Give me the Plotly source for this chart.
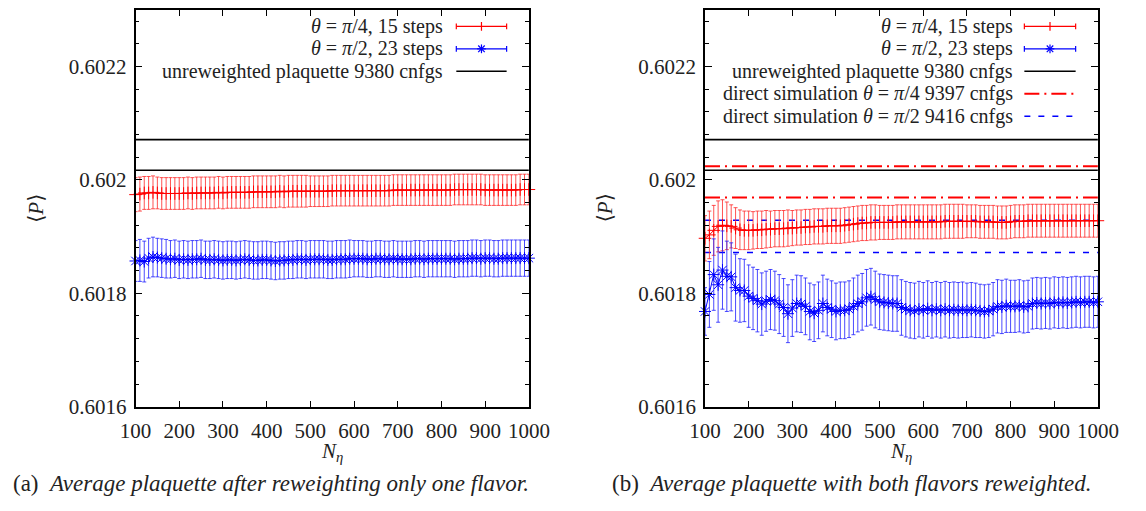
import plotly.graph_objects as go

# ---------------------------------------------------------------- data
N_eta = list(range(100, 1001, 10))

# (a) only one flavour reweighted
a_pi4 = [0.601974, 0.601975, 0.601977, 0.601977, 0.601978, 0.601977, 0.601976, 0.601976, 0.601976, 0.601976,
         0.601976, 0.601976, 0.601977, 0.601976, 0.601977, 0.601977, 0.601977, 0.601977, 0.601977, 0.601978,
         0.601977, 0.601978, 0.601978, 0.601978, 0.601978, 0.601978, 0.601978, 0.601979, 0.601979, 0.601979,
         0.601979, 0.601979, 0.601979, 0.601980, 0.601979, 0.601980, 0.601980, 0.601980, 0.601980, 0.601980,
         0.601980, 0.601980, 0.601980, 0.601980, 0.601980, 0.601981, 0.601981, 0.601981, 0.601981, 0.601981,
         0.601981, 0.601981, 0.601981, 0.601981, 0.601981, 0.601981, 0.601981, 0.601981, 0.601981, 0.601982,
         0.601982, 0.601982, 0.601982, 0.601982, 0.601982, 0.601982, 0.601982, 0.601982, 0.601982, 0.601982,
         0.601982, 0.601982, 0.601982, 0.601983, 0.601983, 0.601983, 0.601983, 0.601983, 0.601983, 0.601983,
         0.601982, 0.601982, 0.601982, 0.601982, 0.601982, 0.601982, 0.601982, 0.601982, 0.601983, 0.601983,
         0.601983]
a_pi4_err = [0.000030, 0.000030, 0.000029, 0.000029, 0.000029, 0.000028, 0.000028, 0.000028, 0.000028, 0.000028,
             0.000028, 0.000028, 0.000028, 0.000028, 0.000028, 0.000028, 0.000028, 0.000028, 0.000028, 0.000028,
             0.000028, 0.000028, 0.000028, 0.000028, 0.000028, 0.000028, 0.000028, 0.000028, 0.000028, 0.000028,
             0.000028, 0.000028, 0.000028, 0.000028, 0.000028, 0.000028, 0.000028, 0.000028, 0.000028, 0.000028,
             0.000027, 0.000027, 0.000027, 0.000027, 0.000027, 0.000027, 0.000027, 0.000027, 0.000027, 0.000027,
             0.000027, 0.000027, 0.000027, 0.000027, 0.000027, 0.000027, 0.000027, 0.000027, 0.000027, 0.000027,
             0.000027, 0.000027, 0.000027, 0.000027, 0.000027, 0.000027, 0.000027, 0.000027, 0.000027, 0.000027,
             0.000027, 0.000027, 0.000027, 0.000027, 0.000027, 0.000027, 0.000027, 0.000027, 0.000027, 0.000027,
             0.000027, 0.000027, 0.000027, 0.000027, 0.000027, 0.000027, 0.000027, 0.000027, 0.000027, 0.000027,
             0.000027]
a_pi2 = [0.601857, 0.601858, 0.601856, 0.601862, 0.601864, 0.601863, 0.601862, 0.601861, 0.601860, 0.601861,
         0.601859, 0.601860, 0.601859, 0.601860, 0.601860, 0.601861, 0.601859, 0.601859, 0.601860, 0.601859,
         0.601858, 0.601859, 0.601859, 0.601858, 0.601859, 0.601860, 0.601859, 0.601858, 0.601858, 0.601859,
         0.601859, 0.601858, 0.601857, 0.601858, 0.601858, 0.601859, 0.601859, 0.601860, 0.601860, 0.601859,
         0.601860, 0.601860, 0.601860, 0.601860, 0.601859, 0.601859, 0.601860, 0.601860, 0.601860, 0.601861,
         0.601861, 0.601861, 0.601861, 0.601860, 0.601860, 0.601861, 0.601861, 0.601860, 0.601860, 0.601861,
         0.601860, 0.601860, 0.601860, 0.601860, 0.601861, 0.601861, 0.601860, 0.601861, 0.601861, 0.601861,
         0.601861, 0.601861, 0.601861, 0.601860, 0.601861, 0.601861, 0.601861, 0.601862, 0.601862, 0.601861,
         0.601862, 0.601862, 0.601861, 0.601861, 0.601862, 0.601862, 0.601862, 0.601862, 0.601862, 0.601862,
         0.601862]
a_pi2_err = [0.000036, 0.000037, 0.000036, 0.000035, 0.000035, 0.000034, 0.000034, 0.000034, 0.000033, 0.000033,
             0.000033, 0.000033, 0.000033, 0.000033, 0.000033, 0.000033, 0.000033, 0.000033, 0.000033, 0.000033,
             0.000033, 0.000033, 0.000033, 0.000033, 0.000033, 0.000033, 0.000033, 0.000033, 0.000033, 0.000033,
             0.000033, 0.000033, 0.000033, 0.000033, 0.000033, 0.000033, 0.000033, 0.000033, 0.000033, 0.000033,
             0.000033, 0.000033, 0.000033, 0.000033, 0.000033, 0.000033, 0.000033, 0.000033, 0.000033, 0.000033,
             0.000032, 0.000032, 0.000032, 0.000032, 0.000032, 0.000032, 0.000032, 0.000032, 0.000032, 0.000032,
             0.000032, 0.000032, 0.000032, 0.000032, 0.000032, 0.000032, 0.000032, 0.000032, 0.000032, 0.000032,
             0.000032, 0.000032, 0.000032, 0.000032, 0.000032, 0.000032, 0.000032, 0.000032, 0.000032, 0.000032,
             0.000032, 0.000032, 0.000032, 0.000032, 0.000032, 0.000032, 0.000032, 0.000032, 0.000032, 0.000032,
             0.000032]

# (b) both flavours reweighted
b_pi4 = [0.601897, 0.601903, 0.601911, 0.601918, 0.601920, 0.601919, 0.601918, 0.601915, 0.601912, 0.601911,
         0.601911, 0.601911, 0.601912, 0.601912, 0.601913, 0.601913, 0.601914, 0.601914, 0.601914, 0.601915,
         0.601915, 0.601916, 0.601916, 0.601917, 0.601917, 0.601918, 0.601918, 0.601918, 0.601919, 0.601919,
         0.601919, 0.601919, 0.601920, 0.601921, 0.601922, 0.601923, 0.601924, 0.601924, 0.601925, 0.601925,
         0.601925, 0.601925, 0.601925, 0.601925, 0.601926, 0.601926, 0.601926, 0.601926, 0.601926, 0.601926,
         0.601926, 0.601926, 0.601926, 0.601926, 0.601926, 0.601927, 0.601927, 0.601927, 0.601927, 0.601927,
         0.601927, 0.601927, 0.601927, 0.601926, 0.601926, 0.601926, 0.601926, 0.601925, 0.601925, 0.601925,
         0.601926, 0.601927, 0.601927, 0.601927, 0.601928, 0.601928, 0.601928, 0.601928, 0.601928, 0.601928,
         0.601928, 0.601928, 0.601928, 0.601928, 0.601928, 0.601928, 0.601928, 0.601928, 0.601928, 0.601928,
         0.601928]
b_pi4_err = [0.000040, 0.000042, 0.000044, 0.000045, 0.000045, 0.000042, 0.000038, 0.000036, 0.000035, 0.000034,
             0.000034, 0.000033, 0.000033, 0.000033, 0.000033, 0.000032, 0.000032, 0.000032, 0.000032, 0.000032,
             0.000031, 0.000031, 0.000031, 0.000031, 0.000031, 0.000031, 0.000031, 0.000031, 0.000031, 0.000031,
             0.000031, 0.000031, 0.000031, 0.000031, 0.000031, 0.000031, 0.000031, 0.000031, 0.000031, 0.000031,
             0.000030, 0.000030, 0.000030, 0.000030, 0.000030, 0.000030, 0.000030, 0.000030, 0.000030, 0.000030,
             0.000030, 0.000030, 0.000030, 0.000030, 0.000030, 0.000030, 0.000030, 0.000030, 0.000030, 0.000030,
             0.000029, 0.000029, 0.000029, 0.000029, 0.000029, 0.000029, 0.000029, 0.000029, 0.000029, 0.000029,
             0.000029, 0.000029, 0.000029, 0.000029, 0.000029, 0.000029, 0.000029, 0.000029, 0.000029, 0.000029,
             0.000029, 0.000029, 0.000029, 0.000029, 0.000029, 0.000029, 0.000029, 0.000029, 0.000029, 0.000029,
             0.000029]
b_pi2 = [0.601768, 0.601798, 0.601833, 0.601815, 0.601841, 0.601830, 0.601829, 0.601810, 0.601805, 0.601805,
         0.601795, 0.601791, 0.601787, 0.601781, 0.601786, 0.601789, 0.601787, 0.601781, 0.601775, 0.601764,
         0.601774, 0.601782, 0.601781, 0.601777, 0.601768, 0.601765, 0.601770, 0.601782, 0.601775, 0.601772,
         0.601768, 0.601770, 0.601770, 0.601772, 0.601777, 0.601782, 0.601785, 0.601792, 0.601794, 0.601789,
         0.601785, 0.601784, 0.601783, 0.601782, 0.601782, 0.601775, 0.601772, 0.601770, 0.601769, 0.601772,
         0.601770, 0.601773, 0.601770, 0.601772, 0.601770, 0.601772, 0.601770, 0.601771, 0.601770, 0.601771,
         0.601770, 0.601771, 0.601770, 0.601769, 0.601768, 0.601769, 0.601772, 0.601777, 0.601776, 0.601778,
         0.601777, 0.601777, 0.601778, 0.601776, 0.601777, 0.601782, 0.601783, 0.601782, 0.601783, 0.601782,
         0.601784, 0.601783, 0.601784, 0.601783, 0.601784, 0.601785, 0.601784, 0.601785, 0.601785, 0.601784,
         0.601785]
b_pi2_err = [0.000042, 0.000058, 0.000063, 0.000066, 0.000069, 0.000062, 0.000060, 0.000059, 0.000056, 0.000055,
             0.000055, 0.000055, 0.000055, 0.000055, 0.000053, 0.000053, 0.000052, 0.000052, 0.000051, 0.000051,
             0.000050, 0.000050, 0.000050, 0.000050, 0.000050, 0.000050, 0.000050, 0.000050, 0.000050, 0.000050,
             0.000050, 0.000050, 0.000050, 0.000050, 0.000050, 0.000050, 0.000050, 0.000050, 0.000050, 0.000050,
             0.000049, 0.000049, 0.000049, 0.000049, 0.000049, 0.000049, 0.000049, 0.000049, 0.000049, 0.000049,
             0.000049, 0.000049, 0.000049, 0.000049, 0.000049, 0.000049, 0.000049, 0.000049, 0.000049, 0.000049,
             0.000048, 0.000048, 0.000048, 0.000047, 0.000047, 0.000047, 0.000047, 0.000047, 0.000047, 0.000047,
             0.000046, 0.000046, 0.000046, 0.000046, 0.000046, 0.000045, 0.000045, 0.000045, 0.000045, 0.000045,
             0.000045, 0.000045, 0.000045, 0.000045, 0.000045, 0.000045, 0.000045, 0.000045, 0.000045, 0.000045,
             0.000045]

# reference plaquettes: (central value, error)
unrew_plaq = (0.602044, 0.000027)
direct_pi4 = (0.6019965, 0.0000275)
direct_pi2 = (0.6019005, 0.0000285)

y_ticks = [0.6016, 0.6018, 0.602, 0.6022]
y_tick_text = ["0.6016", "0.6018", "0.602", "0.6022"]
x_ticks = [100, 200, 300, 400, 500, 600, 700, 800, 900, 1000]

LBL_PI4 = "<i>θ</i> = <i>π</i>/4, 15 steps"
LBL_PI2 = "<i>θ</i> = <i>π</i>/2, 23 steps"
LBL_UNREW = "unreweighted plaquette 9380 cnfgs"
LBL_D4 = "direct simulation <i>θ</i> = <i>π</i>/4 9397 cnfgs"
LBL_D2 = "direct simulation <i>θ</i> = <i>π</i>/2 9416 cnfgs"
CAPTION_A = "(a)  <i>Average plaquette after reweighting only one flavor.</i>"
CAPTION_B = "(b)  <i>Average plaquette with both flavors reweighted.</i>"

# ---------------------------------------------------------------- style
W, H = 1146, 511
FONT = "'Liberation Serif', 'DejaVu Serif', serif"
INK = "#222222"
RED = "rgb(255,0,0)"
RED_BAR = "rgba(255,40,40,0.8)"
BLUE = "rgb(0,0,255)"
BLUE_BAR = "rgba(30,30,255,0.8)"
DASHDOT = "15px,5px,2px,5px"
DASHED = "6px,8px"

# panel boxes in pixels: (left, right)
PANELS = [(123.5, 530.0), (712.0, 1118.0)]
TOP, BOTTOM = 10.0, 416.5


def px(x):
    return x / W


def py(y):
    return 1 - y / H


fig = go.Figure()


def series(xa, ya, vals, errs, color, bar_color, symbol, size):
    fig.add_trace(go.Scatter(
        x=N_eta, y=vals, xaxis=xa, yaxis=ya, mode="lines+markers",
        line=dict(color=color, width=1),
        marker=dict(symbol=symbol, size=size, color=color,
                    line=dict(color=color, width=1)),
        error_y=dict(type="data", array=errs, visible=True,
                     color=bar_color, thickness=1, width=2),
        cliponaxis=False, showlegend=False, hoverinfo="skip"))


def band(xa, ya, ref, color, dash, width):
    c, e = ref
    for yv in (c + e, c - e):
        fig.add_trace(go.Scatter(
            x=[N_eta[0], N_eta[-1]], y=[yv, yv], xaxis=xa, yaxis=ya,
            mode="lines", line=dict(color=color, width=width, dash=dash),
            showlegend=False, hoverinfo="skip"))


# panel (a)
band("x", "y", unrew_plaq, "black", "solid", 1.6)
series("x", "y", a_pi4, a_pi4_err, RED, RED_BAR, "cross-thin", 9)
series("x", "y", a_pi2, a_pi2_err, BLUE, BLUE_BAR, "asterisk", 10)

# panel (b)
band("x2", "y2", unrew_plaq, "black", "solid", 1.6)
band("x2", "y2", direct_pi4, RED, DASHDOT, 2)
band("x2", "y2", direct_pi2, BLUE, DASHED, 1.5)
series("x2", "y2", b_pi4, b_pi4_err, RED, RED_BAR, "cross-thin", 9)
series("x2", "y2", b_pi2, b_pi2_err, BLUE, BLUE_BAR, "asterisk", 10)

# ---------------------------------------------------------------- axes
tickfont = dict(family=FONT, size=21, color=INK)
common_x = dict(range=[100, 1000], tickvals=x_ticks, ticks="inside", ticklen=6,
                tickwidth=1, tickcolor="black", showline=True, linecolor="black",
                linewidth=1.5, mirror="ticks", showgrid=False, zeroline=False,
                tickfont=tickfont, ticklabelstandoff=4)
common_y = dict(range=[0.6016, 0.6023], tickvals=y_ticks, ticktext=y_tick_text,
                ticks="inside", ticklen=7, tickwidth=1, tickcolor="black",
                showline=True, linecolor="black", linewidth=1.5, mirror="ticks",
                showgrid=False, zeroline=False, tickfont=tickfont,
                ticklabelstandoff=3,
                minor=dict(dtick=0.00004, tick0=0.6016, ticks="inside", ticklen=4,
                           tickcolor="black", showgrid=False))

fig.update_layout(
    xaxis=dict(domain=[px(PANELS[0][0]), px(PANELS[0][1])], anchor="y", **common_x),
    yaxis=dict(domain=[py(BOTTOM), py(TOP)], anchor="x", **common_y),
    xaxis2=dict(domain=[px(PANELS[1][0]), px(PANELS[1][1])], anchor="y2", **common_x),
    yaxis2=dict(domain=[py(BOTTOM), py(TOP)], anchor="x2", **common_y),
)

# ---------------------------------------------------------------- legends
annotations = []
shapes = []


def seg(x0, y0, x1, y1, color, width=1.2, dash="solid"):
    shapes.append(dict(type="line", xref="paper", yref="paper",
                       x0=px(x0), y0=py(y0), x1=px(x1), y1=py(y1),
                       line=dict(color=color, width=width, dash=dash)))


def text_at(x, y, text, anchor, size=20, angle=0):
    annotations.append(dict(xref="paper", yref="paper", x=px(x), y=py(y),
                            xanchor=anchor, yanchor="middle", showarrow=False,
                            textangle=angle, text=text,
                            font=dict(family=FONT, size=size, color=INK)))


def errbar_sample(x0, x1, y, color, marker):
    seg(x0, y, x1, y, color)
    seg(x0, y - 3, x0, y + 3, color)
    seg(x1, y - 3, x1, y + 3, color)
    xm = (x0 + x1) / 2
    r = 4.5
    seg(xm, y - r, xm, y + r, color)
    if marker == "asterisk":
        seg(xm - r, y, xm + r, y, color)
        seg(xm - r * 0.75, y - r * 0.75, xm + r * 0.75, y + r * 0.75, color)
        seg(xm - r * 0.75, y + r * 0.75, xm + r * 0.75, y - r * 0.75, color)


def draw_legend(text_right, s0, s1, rows):
    y = 27
    for label, kind, color in rows:
        text_at(text_right, y, label, "right")
        if kind in ("cross", "asterisk"):
            errbar_sample(s0, s1, y, color, kind)
        elif kind == "solid":
            seg(s0, y, s1, y, color, 1.6)
        elif kind == "dashdot":
            seg(s0, y, s1, y, color, 2, DASHDOT)
        else:
            seg(s0, y, s1, y, color, 1.5, DASHED)
        y += 23


draw_legend(443, 455, 507, [
    (LBL_PI4, "cross", RED),
    (LBL_PI2, "asterisk", BLUE),
    (LBL_UNREW, "solid", "black"),
])
draw_legend(1032, 1042, 1095, [
    (LBL_PI4, "cross", RED),
    (LBL_PI2, "asterisk", BLUE),
    (LBL_UNREW, "solid", "black"),
    (LBL_D4, "dashdot", RED),
    (LBL_D2, "dashed", BLUE),
])

# axis titles and captions
for l, r in PANELS:
    text_at((l + r) / 2, 463, "<i>N</i><sub><i>η</i></sub>", "center", size=21)
    text_at(l - 103, 213, "⟨<i>P</i>⟩", "center", size=21, angle=-90)
text_at(264, 495, CAPTION_A, "center", size=23)
text_at(864, 495, CAPTION_B, "center", size=23)

fig.update_layout(
    width=W, height=H, margin=dict(l=0, r=0, t=0, b=0),
    paper_bgcolor="white", plot_bgcolor="white",
    annotations=annotations, shapes=shapes, showlegend=False,
)

fig.write_html("out.html")
